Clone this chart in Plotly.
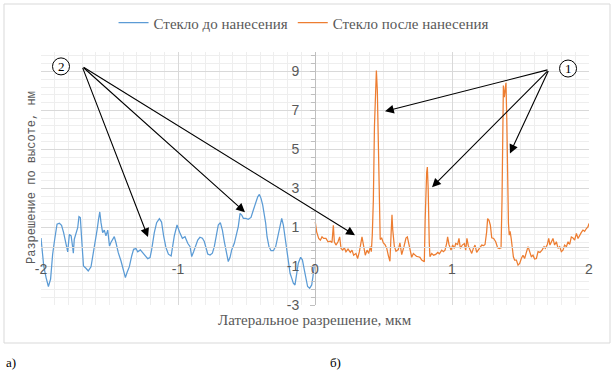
import plotly.graph_objects as go

# ---------------- data ----------------
blue_name = "Стекло до нанесения"
orange_name = "Стекло после нанесения"

blue_x = [-2.0, -1.98, -1.963, -1.946, -1.93, -1.915, -1.90, -1.883, -1.866, -1.85, -1.835, -1.818,
          -1.805, -1.793, -1.78, -1.77, -1.764, -1.757, -1.742, -1.732, -1.723, -1.713, -1.703, -1.69,
          -1.672, -1.655, -1.635, -1.623, -1.606, -1.59, -1.58, -1.571, -1.562, -1.55, -1.538, -1.526,
          -1.513, -1.50, -1.49, -1.474, -1.465, -1.453, -1.436, -1.416, -1.397, -1.384, -1.372, -1.355,
          -1.338, -1.324, -1.307, -1.294, -1.275, -1.258, -1.24, -1.221, -1.204, -1.192, -1.173, -1.156,
          -1.136, -1.12, -1.105, -1.088, -1.07, -1.05, -1.027, -1.007, -0.985, -0.968, -0.949, -0.929,
          -0.912, -0.90, -0.886, -0.871, -0.856, -0.84, -0.822, -0.808, -0.796, -0.783, -0.766, -0.749,
          -0.735, -0.72, -0.706, -0.691, -0.676, -0.662, -0.645, -0.633, -0.62, -0.608, -0.589, -0.572,
          -0.56, -0.547, -0.535, -0.523, -0.506, -0.487, -0.467, -0.45, -0.433, -0.418, -0.406, -0.394,
          -0.382, -0.37, -0.36, -0.35, -0.336, -0.321, -0.304, -0.287, -0.272, -0.258, -0.243, -0.231,
          -0.219, -0.207, -0.195, -0.182, -0.17, -0.158, -0.146, -0.134, -0.122, -0.105, -0.092, -0.078,
          -0.066, -0.054, -0.039, -0.024, -0.015, -0.005]
blue_y = [0.44, -1.0, -1.59, -2.05, -1.67, -0.39, 0.38, 1.15, 1.2, 1.09, 0.72, 0.12,
          -0.27, 0.63, 0.55, 0.03, -0.34, 0.38, 0.80, 0.97, 1.54, 1.49, 0.38, -0.99,
          -1.11, -1.25, -1.04, -0.56, 0.21, 0.89, 1.40, 1.78, 1.23, 0.72, 0.85, 0.55,
          0.85, 0.03, 0.21, 0.38, 0.51, 0.21, -0.31, -0.74, -1.33, -1.59, -1.33, -1.03,
          -0.48, -0.14, -0.10, -0.27, -0.17, -0.31, -0.48, -0.62, -0.56, -0.14, 0.72, 1.23,
          1.44, 1.26, 0.55, -0.05, -0.39, -0.48, 0.55, 1.11, 0.68, 0.43, 0.51, 0.17,
          0.0, -0.51, -0.26, 0.0, 0.34, 0.48, 0.43, 0.26, -0.09, -0.38, -0.43, -0.34,
          0.0, 0.51, 1.11, 1.23, 0.85, 0.26, -0.26, -0.77, -0.55, -0.17, 0.17, 0.77,
          1.03, 1.71, 1.62, 1.45, 1.45, 1.40, 1.50, 1.88, 2.22, 2.56, 2.68, 2.48,
          2.14, 1.71, 1.20, 0.51, 0.0, -0.21, -0.21, 0.0, 0.51, 1.11, 1.45, 1.11,
          0.43, -0.26, -0.85, -1.37, -1.62, -1.88, -1.97, -1.45, -0.85, -0.55, -0.68, -1.20,
          -1.71, -2.05, -2.14, -1.97, -1.54, -0.95]

orange_x = [0.002, 0.012, 0.027, 0.039, 0.051, 0.063, 0.08, 0.095, 0.112, 0.124, 0.134, 0.141,
            0.153, 0.168, 0.18, 0.19, 0.202, 0.214, 0.226, 0.241, 0.258, 0.27, 0.282, 0.299,
            0.311, 0.324, 0.343, 0.355, 0.367, 0.38, 0.392, 0.404, 0.411, 0.418, 0.426, 0.434,
            0.441, 0.448, 0.455, 0.462, 0.47, 0.476, 0.487, 0.499, 0.511, 0.523, 0.535, 0.547,
            0.555, 0.562, 0.567, 0.579, 0.591, 0.608, 0.62, 0.633, 0.65, 0.664, 0.674, 0.684,
            0.693, 0.706, 0.718, 0.73, 0.742, 0.754, 0.766, 0.779, 0.79, 0.798, 0.804, 0.81,
            0.815, 0.82, 0.826, 0.834, 0.839, 0.852, 0.866, 0.881, 0.896, 0.908, 0.925, 0.937,
            0.949, 0.961, 0.968, 0.978, 0.993, 1.005, 1.017, 1.027, 1.041, 1.051, 1.061, 1.075,
            1.09, 1.1, 1.109, 1.119, 1.131, 1.144, 1.156, 1.168, 1.18, 1.192, 1.207, 1.217,
            1.231, 1.241, 1.253, 1.26, 1.27, 1.28, 1.29, 1.304, 1.319, 1.333, 1.345, 1.358,
            1.365, 1.371, 1.375, 1.382, 1.388, 1.394, 1.40, 1.406, 1.412, 1.418, 1.424, 1.432,
            1.44, 1.448, 1.457, 1.47, 1.482, 1.494, 1.506, 1.518, 1.53, 1.543, 1.555, 1.567,
            1.579, 1.591, 1.603, 1.616, 1.628, 1.642, 1.657, 1.672, 1.681, 1.696, 1.706, 1.715,
            1.725, 1.737, 1.749, 1.762, 1.774, 1.786, 1.798, 1.81, 1.822, 1.835, 1.847, 1.859,
            1.871, 1.883, 1.895, 1.908, 1.92, 1.932, 1.944, 1.956, 1.968, 1.981, 1.993, 2.0]
orange_y = [1.27, 0.76, 0.42, 0.33, 0.5, 0.42, 0.42, 0.25, 0.28, 0.21, 1.10, 0.25,
            0.08, 0.25, 0.5, -0.09, -0.18, -0.06, -0.26, -0.13, -0.30, -0.18, -0.44, -0.35,
            -0.61, -0.26, 0.5, -0.09, -0.44, -0.18, -0.35, 0.0, -0.26, 0.59, 2.4, 6.2,
            8.3, 9.05, 8.0, 5.0, 1.6, 0.36, 0.44, 0.19, 0.1, -0.07, -0.45, -0.75,
            0.6, 1.64, 0.9, 0.02, -0.24, -0.15, 0.19, -0.41, 0.02, 0.44, 0.5, 0.19,
            -0.2, -0.55, -0.35, -0.42, -0.5, -0.52, -0.55, -0.69, -0.72, -0.78, 1.38, 3.0,
            3.8, 4.09, 3.0, 0.2, -0.52, -0.35, -0.44, -0.4, -0.3, -0.37, -0.18, -0.26,
            -0.18, 0.16, 0.5, 0.11, -0.18, 0.08, -0.09, 0.16, 0.11, 0.42, -0.09, 0.08,
            0.16, -0.18, 0.42, 0.05, -0.18, -0.35, -0.09, 0.08, -0.3, -0.18, 0.0, 0.08,
            0.05, 0.11, 0.76, 1.44, 1.35, 1.1, 0.45, 0.42, 0.25, -0.06, -0.1, -0.06,
            2.4, 6.5, 8.28, 7.68, 8.1, 8.42, 6.5, 3.5, 1.2, 0.59, 0.79, 0.42,
            -0.18, -0.52, -0.69, -0.69, -0.95, -0.86, -0.61, -0.44, -0.61, -0.26, 0.0, -0.26,
            -0.52, -0.44, -0.64, -0.61, -0.26, -0.3, -0.18, 0.0, -0.09, 0.11, 0.42, 0.08,
            0.25, 0.42, 0.08, 0.25, -0.09, 0.0, -0.26, -0.18, 0.08, 0.0, 0.25, 0.11,
            0.5, 0.45, 0.33, 0.68, 0.42, 0.62, 0.73, 0.85, 0.79, 0.93, 1.02, 1.19]

x_tick_vals = [-2, -1, 0, 1, 2]
x_tick_text = ["-2", "-1", "0", "1", "2"]
y_tick_vals = [-3, -1, 1, 3, 5, 7, 9]
y_tick_text = ["-3", "-1", "1", "3", "5", "7", "9"]

x_title = "Латеральное разрешение, мкм"
y_title = "Разрешение по высоте, нм"

# callouts: label, label position, arrow tail, arrow targets
callout_labels = ["2", "1"]
callout_pos = [(-1.854, 9.26), (1.847, 9.15)]
callout_tails = [(-1.70, 9.26), (1.708, 9.10)]
callout_targets = [
    [(-1.219, 0.49), (-0.511, 1.77), (0.292, 0.59)],
    [(0.511, 6.95), (0.854, 3.05), (1.423, 4.79)],
]

# ---------------- figure ----------------
GRAY = "#595959"
fig = go.Figure()
fig.add_trace(go.Scatter(x=blue_x, y=blue_y, mode="lines", name=blue_name,
                         line=dict(color="#5b9bd5", width=1.25)))
fig.add_trace(go.Scatter(x=orange_x, y=orange_y, mode="lines", name=orange_name,
                         line=dict(color="#ed7d31", width=1.25)))

y0 = -3
y1 = 10
fig.update_layout(
    width=614, height=376,
    margin=dict(l=41, r=25, t=52, b=71, autoexpand=False),
    paper_bgcolor="white", plot_bgcolor="white",
    showlegend=True,
    legend=dict(orientation="h", x=0.48, y=1.115, xanchor="center", yanchor="middle",
                font=dict(family="Liberation Serif", size=15, color=GRAY),
                itemwidth=30, tracegroupgap=0),
    xaxis=dict(range=[-2, 2], anchor="free", position=(0 - y0) / (y1 - y0),
               tickmode="array", tickvals=x_tick_vals, ticktext=x_tick_text,
               showgrid=True, gridcolor="#d9d9d9", gridwidth=1,
               minor=dict(dtick=0.1, tick0=-2, showgrid=True, gridcolor="#eeeeee", gridwidth=1),
               showline=True, linecolor="#d9d9d9", linewidth=1,
               zeroline=False, ticks="", ticklabelstandoff=10,
               tickfont=dict(family="Liberation Sans", size=14, color=GRAY)),
    yaxis=dict(range=[y0, y1], anchor="free", position=0.5,
               tickmode="array", tickvals=y_tick_vals, ticktext=y_tick_text,
               showgrid=True, gridcolor="#d9d9d9", gridwidth=1,
               minor=dict(dtick=0.4, tick0=-3, showgrid=True, gridcolor="#eeeeee", gridwidth=1,
                          ticks="outside", ticklen=4, tickcolor="#bfbfbf"),
               showline=True, linecolor="#bfbfbf", linewidth=1,
               zeroline=False, ticks="outside", ticklen=5, tickcolor="#bfbfbf",
               ticklabelstandoff=8,
               tickfont=dict(family="Liberation Sans", size=14, color=GRAY)),
    yaxis2=dict(range=[y0, y1], anchor="free", position=0.5, overlaying="y", side="left",
                tickmode="array", tickvals=y_tick_vals, showticklabels=False,
                showgrid=False, zeroline=False, showline=False,
                ticks="inside", ticklen=5, tickcolor="#bfbfbf",
                minor=dict(dtick=0.4, tick0=-3, showgrid=False,
                           ticks="inside", ticklen=4, tickcolor="#bfbfbf")),
)

annotations = []
shapes = []
# axis titles
annotations.append(dict(text=x_title, xref="paper", yref="paper", x=(315 - 41) / 548,
                        y=(305 - 320) / 253, showarrow=False, xanchor="center", yanchor="middle",
                        font=dict(family="Liberation Serif", size=15, color=GRAY)))
annotations.append(dict(text=y_title, xref="paper", yref="paper", x=(32 - 41) / 548,
                        y=(305 - 178) / 253, showarrow=False, textangle=-90,
                        xanchor="center", yanchor="middle",
                        font=dict(family="Liberation Mono", size=12, color=GRAY)))
# sub-figure labels
annotations.append(dict(text="а)", xref="paper", yref="paper", x=(4 - 41) / 548,
                        y=(305 - 362) / 253, showarrow=False, xanchor="left", yanchor="middle",
                        font=dict(family="Liberation Serif", size=13, color="black")))
annotations.append(dict(text="б)", xref="paper", yref="paper", x=(328 - 41) / 548,
                        y=(305 - 362) / 253, showarrow=False, xanchor="left", yanchor="middle",
                        font=dict(family="Liberation Serif", size=13, color="black")))

for lab, (cx, cy), (tx, ty), targets in zip(callout_labels, callout_pos, callout_tails, callout_targets):
    shapes.append(dict(type="circle", xref="x", yref="y", xsizemode="pixel", ysizemode="pixel",
                       xanchor=cx, yanchor=cy, x0=-8.5, x1=8.5, y0=-8.5, y1=8.5,
                       line=dict(color="black", width=1), fillcolor="white"))
    annotations.append(dict(text=lab, x=cx, y=cy, xref="x", yref="y", showarrow=False,
                            font=dict(family="Liberation Serif", size=13, color="black")))
    for (ax_, ay_) in targets:
        annotations.append(dict(text="", x=ax_, y=ay_, xref="x", yref="y",
                                ax=tx, ay=ty, axref="x", ayref="y",
                                showarrow=True, arrowhead=2, arrowsize=1.6, arrowwidth=1.1,
                                arrowcolor="black", standoff=0, startstandoff=0))

# outer chart border
shapes.append(dict(type="rect", xref="paper", yref="paper",
                   x0=(4 - 41) / 548, x1=(610 - 41) / 548,
                   y0=(305 - 343) / 253, y1=(305 - 4) / 253,
                   line=dict(color="#d9d9d9", width=1), fillcolor="rgba(0,0,0,0)", layer="below"))

fig.update_layout(annotations=annotations, shapes=shapes)
fig.write_html("out.html", config={"displayModeBar": False},
               post_script="document.body.style.margin='0';document.body.style.overflow='hidden';")
